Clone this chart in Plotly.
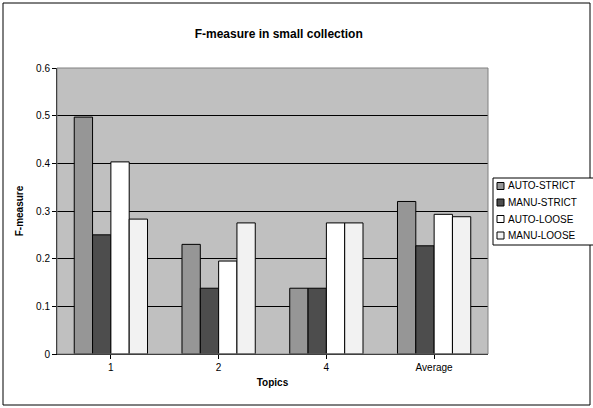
import plotly.graph_objects as go

topics = ["1", "2", "4", "Average"]
series = ["AUTO-STRICT", "MANU-STRICT", "AUTO-LOOSE", "MANU-LOOSE"]
auto_strict = [0.497, 0.230, 0.138, 0.320]
manu_strict = [0.250, 0.138, 0.138, 0.227]
auto_loose = [0.403, 0.195, 0.275, 0.293]
manu_loose = [0.283, 0.275, 0.275, 0.288]
y_ticks = [0, 0.1, 0.2, 0.3, 0.4, 0.5, 0.6]
y_labels = ["0", "0.1", "0.2", "0.3", "0.4", "0.5", "0.6"]
colors = ["#969696", "#4d4d4d", "#ffffff", "#f2f2f2"]

W, H = 593, 408
fig = go.Figure()
for name, vals, c in zip(series, [auto_strict, manu_strict, auto_loose, manu_loose], colors):
    fig.add_trace(go.Bar(x=topics, y=vals, name=name, marker_color=c,
                         marker_line_color="black", marker_line_width=1))

fig.update_layout(
    width=W, height=H, showlegend=False,
    margin=dict(l=0, r=0, t=0, b=0, autoexpand=False),
    paper_bgcolor="white", plot_bgcolor="#c0c0c0",
    font=dict(family="Liberation Sans, Arial", size=11, color="black"),
    barmode="group", bargap=0.32, bargroupgap=0,
    title=dict(text="<b>F-measure in small collection</b>", x=0.47, y=0.918,
               xanchor="center", yanchor="middle", font=dict(size=12)),
    xaxis=dict(domain=[57 / W, 488 / W], showline=True, linecolor="black",
               ticks="outside", ticklen=4, tickcolor="black", automargin=False,
               tickfont=dict(size=10),
               title=dict(text="<b>Topics</b>", font=dict(size=10), standoff=6)),
    yaxis=dict(domain=[1 - 354 / H, 1 - 68 / H], range=[0, 0.6],
               tickvals=y_ticks, ticktext=y_labels, automargin=False,
               tickfont=dict(size=10),
               showgrid=True, gridcolor="black", gridwidth=1,
               showline=True, linecolor="black", ticks="outside", ticklen=4,
               tickcolor="black", zeroline=False,
               title=dict(text="<b>F-measure</b>", font=dict(size=10), standoff=10)),
)

def px_x(v):
    return v / W

def px_y(v):
    return 1 - v / H

# outer chart border and plot frame
fig.add_shape(type="rect", xref="paper", yref="paper",
              x0=px_x(3), x1=px_x(590), y0=px_y(405), y1=px_y(3),
              line=dict(color="black", width=1))
fig.add_shape(type="rect", xref="paper", yref="paper",
              x0=px_x(57), x1=px_x(488), y0=px_y(354), y1=px_y(68),
              line=dict(color="#808080", width=1))

# legend drawn by hand, clipped at the chart's right edge like the original
fig.add_shape(type="rect", xref="paper", yref="paper",
              x0=px_x(493), x1=px_x(600), y0=px_y(245), y1=px_y(178),
              line=dict(color="black", width=1), fillcolor="white")
for i, (name, c) in enumerate(zip(series, colors)):
    yc = 186 + i * 16.5
    fig.add_shape(type="rect", xref="paper", yref="paper",
                  x0=px_x(497), x1=px_x(504), y0=px_y(yc + 3.5), y1=px_y(yc - 3.5),
                  line=dict(color="black", width=1), fillcolor=c)
    fig.add_annotation(text=name, xref="paper", yref="paper",
                       x=px_x(506), y=px_y(yc), xanchor="left", yanchor="middle",
                       showarrow=False, font=dict(size=10))

fig.write_html("out.html", config={"displayModeBar": False},
               post_script="document.body.style.margin='0';")
